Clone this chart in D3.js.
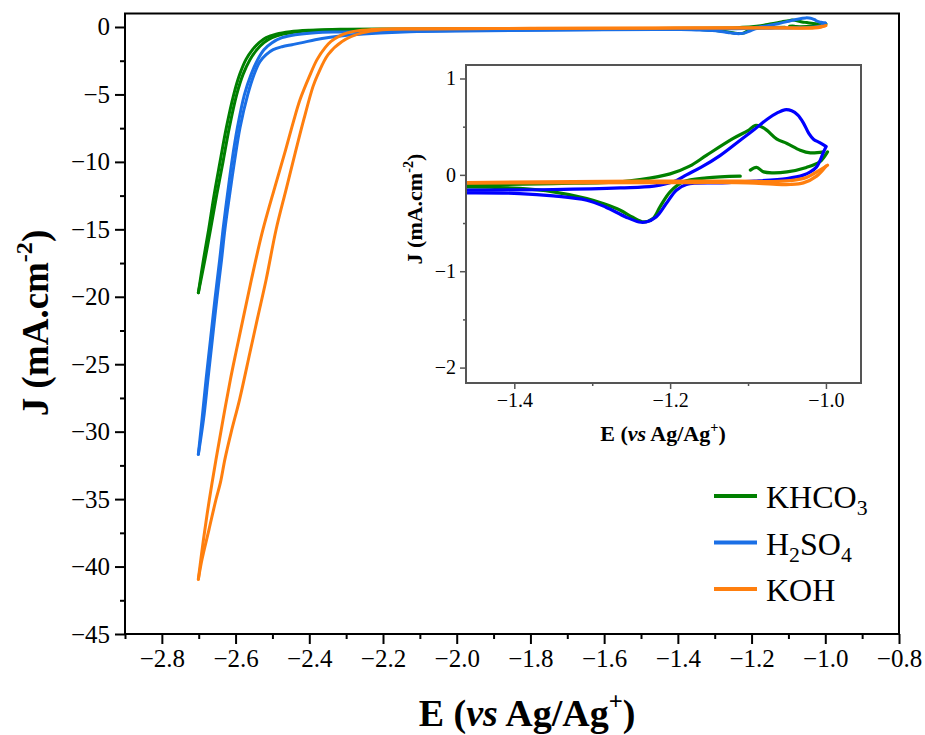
<!DOCTYPE html>
<html>
<head>
<meta charset="utf-8">
<script src="https://cdn.jsdelivr.net/npm/d3@7"></script>
<style>
    body { margin: 0; background: #fff; }
</style>
</head>
<body>
<div id="chart"></div>
<script>
const FONT = '"Liberation Serif", "Times New Roman", Times, serif';

// CV sweeps, [E (V vs Ag/Ag+), J (mA/cm2)]
// cathodic = going from -1.0 V down to -2.7 V, anodic = way back
const khco3Cathodic = [[-0.998,0.239],[-1.008,0.135],[-1.025,0.077],[-1.05,0.031],[-1.068,0.021],[-1.08,0.031],[-1.089,0.077],[-1.097,0.049],[-1.1,null],[-1.11,-0.013],[-1.153,-0.031],[-1.183,-0.072],[-1.2,-0.176],[-1.213,-0.332],[-1.222,-0.453],[-1.234,-0.488],[-1.248,-0.44],[-1.264,-0.367],[-1.285,-0.3],[-1.307,-0.245],[-1.35,-0.176],[-1.393,-0.141],[-1.461,-0.124],[-1.6,-0.15],[-1.828,-0.19],[-2.262,-0.19],[-2.371,-0.24],[-2.43,-0.35],[-2.471,-0.53],[-2.501,-0.79],[-2.523,-1.16],[-2.542,-1.68],[-2.561,-2.42],[-2.58,-3.53],[-2.597,-5.01],[-2.617,-7.46],[-2.634,-9.98],[-2.651,-12.42],[-2.668,-15.01],[-2.683,-17.24],[-2.701,-19.7]];
const khco3Anodic = [[-2.701,-19.7],[-2.687,-17.24],[-2.673,-15.01],[-2.658,-12.42],[-2.642,-9.98],[-2.625,-7.46],[-2.605,-5.01],[-2.589,-3.53],[-2.572,-2.42],[-2.554,-1.68],[-2.536,-1.16],[-2.517,-0.79],[-2.49,-0.53],[-2.452,-0.35],[-2.398,-0.24],[-2.316,-0.16],[-2.153,-0.14],[-1.8,-0.13],[-1.6,-0.12],[-1.461,-0.107],[-1.35,-0.09],[-1.264,-0.072],[-1.239,-0.05],[-1.2,0.01],[-1.175,0.09],[-1.153,0.205],[-1.119,0.378],[-1.1,0.46],[-1.091,0.512],[-1.083,0.5],[-1.076,0.464],[-1.063,0.37],[-1.05,0.326],[-1.033,0.256],[-1.02,0.228],[-1.003,0.239]];

const h2so4Cathodic = [[-1.0,0.29],[-1.004,0.22],[-1.008,0.14],[-1.012,0.083],[-1.02,0.03],[-1.029,-0.003],[-1.05,-0.038],[-1.092,-0.066],[-1.136,-0.083],[-1.179,-0.1],[-1.192,-0.159],[-1.205,-0.298],[-1.218,-0.437],[-1.231,-0.489],[-1.24,-0.489],[-1.257,-0.437],[-1.283,-0.333],[-1.307,-0.263],[-1.35,-0.218],[-1.393,-0.194],[-1.461,-0.187],[-1.6,-0.21],[-1.828,-0.24],[-2.045,-0.27],[-2.208,-0.44],[-2.297,-0.62],[-2.343,-0.76],[-2.384,-0.94],[-2.419,-1.16],[-2.447,-1.31],[-2.474,-1.46],[-2.498,-1.68],[-2.517,-2.05],[-2.534,-2.57],[-2.55,-3.53],[-2.567,-5.01],[-2.588,-7.46],[-2.603,-9.98],[-2.616,-12.42],[-2.629,-15.01],[-2.638,-17.24],[-2.651,-20.2],[-2.663,-23.16],[-2.675,-26.13],[-2.687,-29.09],[-2.701,-31.68]];
const h2so4Anodic = [[-2.701,-31.68],[-2.691,-29.09],[-2.68,-26.13],[-2.668,-23.16],[-2.656,-20.2],[-2.643,-17.24],[-2.634,-15.01],[-2.622,-12.42],[-2.61,-9.98],[-2.595,-7.46],[-2.576,-5.01],[-2.558,-3.53],[-2.54,-2.42],[-2.523,-1.68],[-2.501,-1.16],[-2.474,-0.79],[-2.438,-0.57],[-2.384,-0.42],[-2.316,-0.37],[-2.045,-0.31],[-1.8,-0.25],[-1.6,-0.19],[-1.461,-0.159],[-1.35,-0.152],[-1.264,-0.135],[-1.221,-0.117],[-1.195,-0.07],[-1.179,0.0],[-1.16,0.08],[-1.136,0.2],[-1.11,0.36],[-1.092,0.47],[-1.075,0.58],[-1.062,0.645],[-1.053,0.675],[-1.044,0.665],[-1.036,0.62],[-1.029,0.54],[-1.022,0.43],[-1.016,0.37],[-1.008,0.335],[-1.0,0.295]];

const kohCathodic = [[-0.998,0.1],[-1.008,0.049],[-1.025,-0.027],[-1.046,-0.06],[-1.068,-0.07],[-1.11,-0.064],[-1.239,-0.065],[-1.461,-0.08],[-1.8,-0.11],[-2.099,-0.15],[-2.202,-0.2],[-2.257,-0.44],[-2.311,-1.07],[-2.349,-2.05],[-2.377,-3.53],[-2.39,-4.42],[-2.415,-6.87],[-2.438,-9.31],[-2.463,-12.05],[-2.49,-15.01],[-2.517,-18.72],[-2.54,-21.53],[-2.561,-24.13],[-2.589,-27.6],[-2.612,-30.05],[-2.629,-32.05],[-2.641,-33.76],[-2.653,-35.01],[-2.672,-37.24],[-2.691,-39.46],[-2.701,-40.94]];
const kohAnodic = [[-2.701,-40.94],[-2.687,-37.98],[-2.671,-35.01],[-2.653,-32.05],[-2.634,-29.09],[-2.614,-26.13],[-2.599,-24.13],[-2.58,-21.68],[-2.557,-18.72],[-2.527,-15.16],[-2.493,-11.83],[-2.464,-9.09],[-2.443,-7.01],[-2.425,-5.38],[-2.4,-3.68],[-2.379,-2.42],[-2.357,-1.53],[-2.341,-1.07],[-2.316,-0.64],[-2.297,-0.44],[-2.267,-0.27],[-2.213,-0.16],[-2.099,-0.13],[-1.8,-0.1],[-1.461,-0.085],[-1.2,-0.08],[-1.1,-0.083],[-1.068,-0.097],[-1.046,-0.1],[-1.029,-0.083],[-1.012,-0.013],[-1.0,0.09]];

const seriesNames = ['KHCO_3', 'H_2SO_4', 'KOH'];
const mainColors = ['#008000', '#1a6fe6', '#ff7f0e'];
const insetColors = ['#008000', '#0000ff', '#ff7f0e'];

const mainXTicks = [-2.8, -2.6, -2.4, -2.2, -2.0, -1.8, -1.6, -1.4, -1.2, -1.0, -0.8];
const mainXMinor = [-2.9, -2.7, -2.5, -2.3, -2.1, -1.9, -1.7, -1.5, -1.3, -1.1, -0.9];
const mainYTicks = [0, -5, -10, -15, -20, -25, -30, -35, -40, -45];
const mainYMinor = [-2.5, -7.5, -12.5, -17.5, -22.5, -27.5, -32.5, -37.5, -42.5];
const insetXTicks = [-1.4, -1.2, -1.0];
const insetXMinor = [-1.3, -1.1];
const insetYTicks = [1, 0, -1, -2];
const insetYMinor = [0.5, -0.5, -1.5];

const sweeps = [
    [khco3Cathodic, khco3Anodic],
    [h2so4Cathodic, h2so4Anodic],
    [kohCathodic, kohAnodic]
];

let width = 925, height = 735;

let svg = d3.select('#chart').append('svg')
    .attr('width', width)
    .attr('height', height)
    .style('font-family', FONT);

// writes labels with markup: _x = subscript, ^x = superscript, *x* = italic
function richText(sel, str, size) {
    sel.style('font-family', FONT).style('font-size', size + 'px');
    let re = /(\*[^*]+\*|\^[^ )]|_[0-9])/g;
    let parts = str.split(re).filter(s => s !== '');
    let shift = 0;
    parts.forEach(function(p) {
        let t = sel.append('tspan');
        let want = 0;
        if (p[0] === '^') { want = -0.42 * size; t.style('font-size', (size * 0.65) + 'px'); p = p.slice(1); }
        else if (p[0] === '_') { want = 0.22 * size; t.style('font-size', (size * 0.68) + 'px'); p = p.slice(1); }
        else if (p[0] === '*') { t.style('font-style', 'italic'); p = p.slice(1, -1); }
        t.attr('dy', want - shift);
        shift = want;
        t.text(p);
    });
}

function drawPanel(g, x, y, opt) {
    let x0 = x.range()[0], x1 = x.range()[1];
    let y0 = y.range()[0], y1 = y.range()[1];

    g.append('rect')
        .attr('x', x0).attr('y', y1)
        .attr('width', x1 - x0).attr('height', y0 - y1)
        .style('fill', '#fff');

    let xAxis = d3.axisBottom(x).tickValues(opt.xTicks).tickSize(opt.major)
        .tickPadding(opt.pad).tickFormat(d3.format('.1f'));
    let xMinor = d3.axisBottom(x).tickValues(opt.xMinor).tickSize(opt.minor).tickFormat('');
    let yAxis = d3.axisLeft(y).tickValues(opt.yTicks).tickSize(opt.major)
        .tickPadding(opt.pad).tickFormat(d3.format('d'));
    let yMinor = d3.axisLeft(y).tickValues(opt.yMinor).tickSize(opt.minor).tickFormat('');

    [[xAxis, 'translate(0,' + y0 + ')'], [xMinor, 'translate(0,' + y0 + ')'],
     [yAxis, 'translate(' + x0 + ',0)'], [yMinor, 'translate(' + x0 + ',0)']].forEach(function(a) {
        let ax = g.append('g').attr('transform', a[1]).call(a[0]);
        ax.attr('font-family', null).attr('font-size', null);
        ax.select('.domain').remove();
        ax.selectAll('line').style('stroke', opt.frame).style('stroke-width', opt.tickWidth);
        ax.selectAll('text')
            .style('font-family', FONT)
            .style('font-size', opt.tickFont + 'px')
            .style('fill', '#000');
    });

    let clipId = 'clip-' + opt.name;
    g.append('clipPath').attr('id', clipId).append('rect')
        .attr('x', x0).attr('y', y1).attr('width', x1 - x0).attr('height', y0 - y1);

    let line = d3.line()
        .defined(d => d[1] !== null)
        .x(d => x(d[0]))
        .y(d => y(d[1]))
        .curve(d3.curveCatmullRom.alpha(0.5));

    let plot = g.append('g').attr('clip-path', 'url(#' + clipId + ')');
    sweeps.forEach(function(pair, i) {
        pair.forEach(function(sweep) {
            plot.append('path')
                .datum(sweep)
                .attr('d', line)
                .style('fill', 'none')
                .style('stroke', opt.colors[i])
                .style('stroke-width', opt.lineWidth)
                .style('stroke-linecap', 'round')
                .style('stroke-linejoin', 'round');
        });
    });

    g.append('rect')
        .attr('x', x0).attr('y', y1)
        .attr('width', x1 - x0).attr('height', y0 - y1)
        .style('fill', 'none')
        .style('stroke', opt.frame)
        .style('stroke-width', opt.frameWidth);
}

// main panel
let x = d3.scaleLinear().domain([-2.9, -0.8]).range([125, 899]);
let y = d3.scaleLinear().domain([-45, 1]).range([634, 13.5]);

drawPanel(svg.append('g'), x, y, {
    name: 'main', xTicks: mainXTicks, xMinor: mainXMinor, yTicks: mainYTicks, yMinor: mainYMinor,
    major: 10, minor: 5, pad: 5, tickFont: 25, tickWidth: 2, frame: '#000', frameWidth: 2,
    lineWidth: 3, colors: mainColors
});

richText(svg.append('text')
    .attr('x', 527).attr('y', 726)
    .attr('text-anchor', 'middle')
    .style('font-weight', 'bold'), 'E (*vs* Ag/Ag^+)', 38);

richText(svg.append('text')
    .attr('transform', 'translate(48,323) rotate(-90)')
    .attr('text-anchor', 'middle')
    .style('font-weight', 'bold'), 'J (mA.cm^-^2)', 37);

// legend
let legend = svg.append('g');
seriesNames.forEach(function(name, i) {
    let ly = 496 + i * 46.5;
    legend.append('line')
        .attr('x1', 714).attr('x2', 757)
        .attr('y1', ly).attr('y2', ly)
        .style('stroke', mainColors[i])
        .style('stroke-width', 4);
    richText(legend.append('text')
        .attr('x', 766).attr('y', ly + 12), name, 32);
});

// inset
let xi = d3.scaleLinear().domain([-1.462, -0.955]).range([466, 861]);
let yi = d3.scaleLinear().domain([-2.16, 1.14]).range([383, 65]);

drawPanel(svg.append('g'), xi, yi, {
    name: 'inset', xTicks: insetXTicks, xMinor: insetXMinor, yTicks: insetYTicks, yMinor: insetYMinor,
    major: 6, minor: 3, pad: 4, tickFont: 20, tickWidth: 1.5, frame: '#555', frameWidth: 2,
    lineWidth: 3.2, colors: insetColors
});

richText(svg.append('text')
    .attr('x', 663).attr('y', 441)
    .attr('text-anchor', 'middle')
    .style('font-weight', 'bold'), 'E (*vs* Ag/Ag^+)', 22);

richText(svg.append('text')
    .attr('transform', 'translate(422,209) rotate(-90)')
    .attr('text-anchor', 'middle')
    .style('font-weight', 'bold'), 'J (mA.cm^-^2)', 22);
</script>
</body>
</html>
